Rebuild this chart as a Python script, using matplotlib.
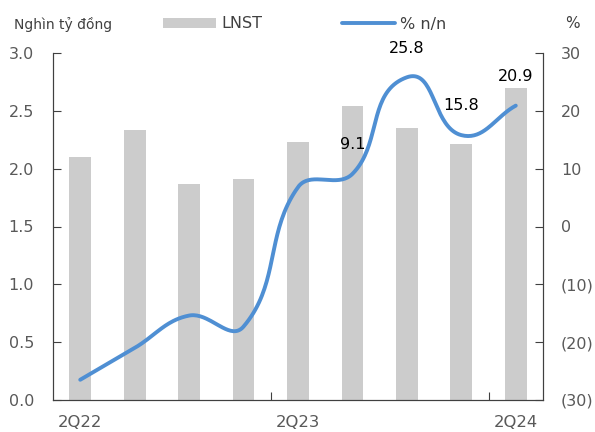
import numpy as np
import matplotlib
matplotlib.use("Agg")
import matplotlib.pyplot as plt

# Quarterly net profit (thousand billion VND) and YoY growth (%)
quarters = ["2Q22", "3Q22", "4Q22", "1Q23", "2Q23", "3Q23", "4Q23", "1Q24", "2Q24"]
profit = [2.10, 2.33, 1.87, 1.91, 2.23, 2.54, 2.35, 2.21, 2.70]
growth = [-26.5, -21.0, -15.4, -17.3, 6.8, 9.1, 25.8, 15.8, 20.9]
labelled_idx = [5, 6, 7, 8]
shown_ticks = [0, 4, 8]

left_ticks = [0.0, 0.5, 1.0, 1.5, 2.0, 2.5, 3.0]
right_ticks = [-30, -20, -10, 0, 10, 20, 30]

BAR_C = "#cccccc"
LINE_C = "#4f8fd3"
TXT_C = "#595959"
AX_C = "#404040"

plt.rcParams["font.family"] = ["DejaVu Sans"]

fig = plt.figure(figsize=(5.95, 4.32), dpi=100)
ax = fig.add_axes([53 / 595, 32 / 432, 490 / 595, 347 / 432])
ax2 = ax.twinx()

x = np.arange(len(quarters))
bars = ax.bar(x, profit, width=0.4, color=BAR_C, zorder=1, label="LNST")

ax.set_xlim(-0.5, len(quarters) - 0.5)
ax.set_ylim(0, 3.0)
ax2.set_ylim(-30, 30)

ax.set_yticks(left_ticks)
ax.set_yticklabels([f"{v:.1f}" for v in left_ticks])
ax2.set_yticks(right_ticks)
ax2.set_yticklabels([f"({abs(v)})" if v < 0 else f"{v}" for v in right_ticks])

ax.set_xticks(shown_ticks)
ax.set_xticklabels([quarters[i] for i in shown_ticks])
ax.set_xticks([3.5, 7.5], minor=True)
ax.tick_params(axis="x", which="major", length=0, pad=11, labelsize=11.8, colors=TXT_C)
ax.tick_params(axis="x", which="minor", direction="in", length=6, width=0.8, color=AX_C)
ax.tick_params(axis="y", direction="in", length=6, width=0.8, color=AX_C,
               labelsize=11.5, labelcolor=TXT_C, pad=13.5)
ax2.tick_params(axis="y", direction="in", length=6, width=0.8, color=AX_C,
                labelsize=11.5, labelcolor=TXT_C, pad=13)

for a in (ax, ax2):
    a.spines["top"].set_visible(False)
    for s in ("left", "right", "bottom"):
        a.spines[s].set_color(AX_C)
        a.spines[s].set_linewidth(0.8)
    a.patch.set_visible(False)


def smooth_curve(axis, xs, ys, tension=0.38, steps=40):
    """Bezier smoothing computed in screen space, like office chart smoothing."""
    pts = axis.transData.transform(np.column_stack([xs, ys]))
    n = len(pts)
    dirs = []
    for i in range(n):
        d = pts[min(i + 1, n - 1)] - pts[max(i - 1, 0)]
        dirs.append(d / np.hypot(*d))
    out = [pts[0]]
    s = np.linspace(0, 1, steps)[1:, None]
    for i in range(n - 1):
        p0, p3 = pts[i], pts[i + 1]
        seg_len = np.hypot(*(p3 - p0))
        c1 = p0 + dirs[i] * seg_len * tension
        c2 = p3 - dirs[i + 1] * seg_len * tension
        seg = (1 - s) ** 3 * p0 + 3 * (1 - s) ** 2 * s * c1 + 3 * (1 - s) * s ** 2 * c2 + s ** 3 * p3
        out.extend(seg)
    return axis.transData.inverted().transform(np.array(out))


curve = smooth_curve(ax2, x, growth)
line, = ax2.plot(curve[:, 0], curve[:, 1], color=LINE_C, lw=2.8,
                 solid_capstyle="round", zorder=3, label="% n/n")

for i in labelled_idx:
    ax2.annotate(f"{growth[i]:.1f}", (x[i], growth[i]), xytext=(0, 21),
                 textcoords="offset points", ha="center", va="center",
                 fontsize=11.5, color="black")

fig.text(14 / 595, 1 - 24 / 432, "Nghìn tỷ đồng", fontsize=10, color=AX_C,
         ha="left", va="center")
fig.text(580 / 595, 1 - 24 / 432, "%", fontsize=11, color=AX_C,
         ha="right", va="center")

fig.legend(handles=[bars, line], labels=["LNST", "% n/n"], loc="center left",
           bbox_to_anchor=(163 / 595, 1 - 24 / 432), ncol=2, frameon=False,
           fontsize=11.5, handlelength=3.3, handleheight=0.6, handletextpad=0.35,
           columnspacing=5.0, borderpad=0, borderaxespad=0, labelcolor=AX_C)

fig.savefig("out.png", dpi=100)
